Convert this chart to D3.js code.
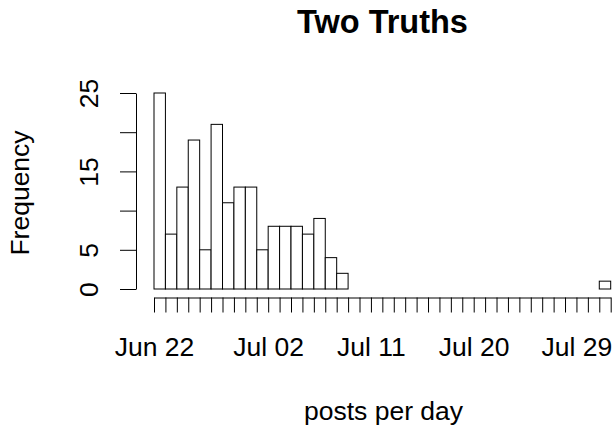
<!DOCTYPE html>
<html>
<head>
<meta charset="utf-8">
<script src="https://cdn.jsdelivr.net/npm/d3@7"></script>
<style>
  html, body { margin: 0; padding: 0; background: #fff; }
  svg { display: block; font-family: "Liberation Sans", Arial, sans-serif; }
</style>
</head>
<body>
<svg id="chart" width="614" height="431"></svg>
<script>
// ---- data ----
const firstDay = "2016-06-22";
const counts = [25, 7, 13, 19, 5, 21, 11, 13, 13, 5, 8, 8, 8, 7, 9, 4, 2,
                0, 0, 0, 0, 0, 0, 0, 0, 0, 0, 0, 0, 0, 0, 0, 0, 0, 0, 0, 0, 0, 0,
                1];
const xTickLabels = ["Jun 22", "Jul 02", "Jul 11", "Jul 20", "Jul 29"];
const yTicks = [0, 5, 10, 15, 20, 25];
const yTickLabels = ["0", "5", "", "15", "", "25"];
const title = "Two Truths";
const xLabel = "posts per day";
const yLabel = "Frequency";

// ---- build ----
const parse = d3.utcParse("%Y-%m-%d");
const start = parse(firstDay);
const bins = counts.map((c, i) => ({
  x0: d3.utcDay.offset(start, i),
  x1: d3.utcDay.offset(start, i + 1),
  count: c
}));
const end = d3.utcDay.offset(start, counts.length);

const svg = d3.select("#chart");
const x = d3.scaleUtc().domain([start, end]).range([154, 610.7]);
const y = d3.scaleLinear().domain([0, 25]).range([289, 93]);

// bars
svg.append("g")
  .selectAll("rect")
  .data(bins)
  .join("rect")
  .attr("x", d => x(d.x0))
  .attr("y", d => y(d.count))
  .attr("width", d => x(d.x1) - x(d.x0))
  .attr("height", d => y(0) - y(d.count))
  .attr("fill", "#fff")
  .attr("stroke", "#000")
  .attr("stroke-width", 1);

// x axis
const fmt = d3.utcFormat("%b %d");
const xTickDates = d3.utcDay.range(start, d3.utcDay.offset(end, 1));
const xAxis = d3.axisBottom(x)
  .tickValues(xTickDates)
  .tickSizeInner(15)
  .tickSizeOuter(0)
  .tickFormat(d => xTickLabels.includes(fmt(d)) ? fmt(d) : "");
const gx = svg.append("g").attr("transform", "translate(0,297.5)").call(xAxis);
gx.selectAll("text")
  .attr("y", 58.5)
  .attr("dy", null)
  .attr("fill", "#000")
  .style("font-size", "26.5px");
gx.selectAll("line, path").attr("stroke", "#000");

// y axis
const yAxis = d3.axisLeft(y)
  .tickValues(yTicks)
  .tickSizeInner(16)
  .tickSizeOuter(0)
  .tickFormat((d, i) => yTickLabels[i]);
const gy = svg.append("g").attr("transform", "translate(136,0)").call(yAxis);
gy.selectAll("text")
  .attr("x", null)
  .attr("dy", null)
  .attr("text-anchor", "middle")
  .attr("transform", "translate(-38,0) rotate(-90)")
  .attr("fill", "#000")
  .style("font-size", "26.5px");
gy.selectAll("line, path").attr("stroke", "#000");

// titles
svg.append("text")
  .attr("x", 382.5).attr("y", 33)
  .attr("text-anchor", "middle")
  .style("font-size", "32.5px").style("font-weight", "bold")
  .text(title);
svg.append("text")
  .attr("x", 383.5).attr("y", 420)
  .attr("text-anchor", "middle")
  .style("font-size", "26.5px")
  .text(xLabel);
svg.append("text")
  .attr("transform", "translate(29,193) rotate(-90)")
  .attr("text-anchor", "middle")
  .style("font-size", "26.5px")
  .text(yLabel);
</script>
</body>
</html>
